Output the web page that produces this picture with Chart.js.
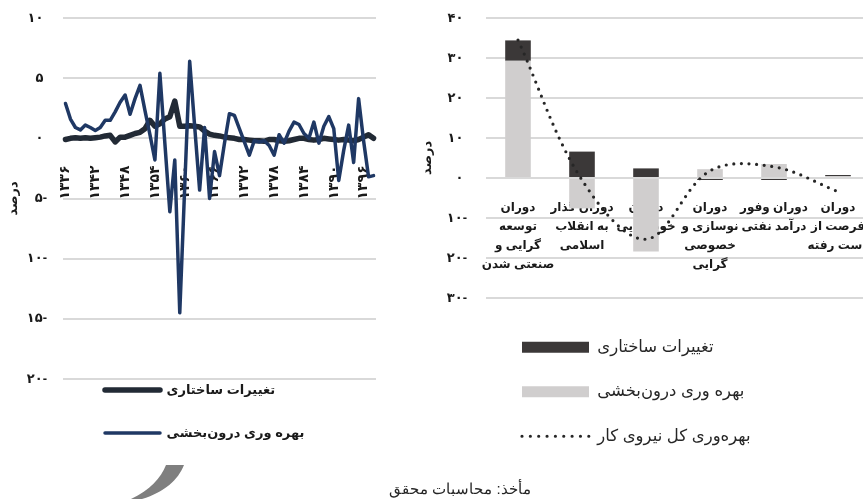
<!DOCTYPE html>
<html><head><meta charset="utf-8">
<script src="https://cdn.jsdelivr.net/npm/chart.js@4.4.1/dist/chart.umd.min.js"></script>
<style>
html,body{margin:0;padding:0;background:#fff;}
body{width:863px;height:499px;overflow:hidden;position:relative;}
#c1{position:absolute;left:0;top:0;}
#c2{position:absolute;left:415px;top:0;}
#deco{position:absolute;left:0;top:0;}
#src{position:absolute;left:360px;top:480px;width:200px;text-align:center;font:15px Arial,"Liberation Sans",sans-serif;color:#262626;direction:rtl;}
</style></head><body>
<canvas id="c1" width="410" height="499"></canvas>
<canvas id="c2" width="470" height="499"></canvas>
<svg id="deco" width="863" height="499"><path d="M166,465 L184,465 C178,480 165,492 142,499 L131,499 C150,490 161,478 166,465 Z" fill="#7f7f7f"/></svg>
<div id="src">مأخذ: محاسبات محقق</div>
<script>
// ---------- Left chart data ----------
const years = [1336,1337,1338,1339,1340,1341,1342,1343,1344,1345,1346,1347,1348,1349,1350,1351,1352,1353,1354,1355,1356,1357,1358,1359,1360,1361,1362,1363,1364,1365,1366,1367,1368,1369,1370,1371,1372,1373,1374,1375,1376,1377,1378,1379,1380,1381,1382,1383,1384,1385,1386,1387,1388,1389,1390,1391,1392,1393,1394,1395,1396,1397,1398];
const yearTickLabels = [1336,1342,1348,1354,1360,1366,1372,1378,1384,1390,1396];
const withinSectorYearly = [2.9,1.6,0.9,0.7,1.1,0.9,0.65,0.9,1.5,1.5, 2.2,3.0,3.6,2.0,3.3,4.4,2.3,0.3,-1.8,5.4, -0.4,-6.1,-1.8,-14.5,-4.0,6.4,1.0,-4.3,0.9,-5.0, -1.1,-3.1,-0.4,2.05,1.9,0.8,-0.3,-1.4,-0.2,-0.3, -0.2,-0.6,-1.4,0.3,-0.4,0.6,1.35,1.15,0.4,0.0, 1.35,-0.4,1.0,1.8,0.8,-3.5,-1.0,1.1,-2.0,3.3, -0.2,-3.2,-3.1];
const structuralYearly = [-0.1,0.0,0.05,0.0,0.05,0.0,0.05,0.1,0.2,0.25, -0.3,0.1,0.1,0.25,0.4,0.5,0.8,1.5,1.0,1.2, 1.6,1.8,3.1,1.0,1.0,1.05,1.0,0.95,0.6,0.35, 0.25,0.2,0.1,0.05,0.0,-0.1,-0.1,-0.15,-0.2,-0.2, -0.25,-0.1,-0.1,-0.2,-0.25,-0.2,-0.1,0.0,0.0,-0.1, -0.15,-0.1,0.0,-0.05,-0.1,-0.15,-0.1,-0.15,-0.2,-0.1, 0.1,0.3,0.0];
const leftSeriesNames = ['بهره وری درون\u200cبخشی', 'تغییرات ساختاری'];

// ---------- Right chart data ----------
const periods = [
  ['دوران','توسعه','گرایی و','صنعتی شدن'],
  ['دوران گذار','به انقلاب','اسلامی'],
  ['دوران','خودکفایی'],
  ['دوران','نوسازی و','خصوصی','گرایی'],
  ['دوران وفور','درآمد نفتی'],
  ['دوران','فرصت از','دست رفته']
];
const periodWithin = [29.3, -7.6, -18.4, 2.2, 3.5, 0.5];
const periodStructural = [5.1, 6.6, 2.4, -0.5, -0.5, 0.25];
const periodTotal = [34.5, -0.5, -15.3, 1.8, 2.8, -3.4];
const rightSeriesNames = ['بهره\u200cوری کل نیروی کار', 'بهره وری درون\u200cبخشی', 'تغییرات ساختاری'];

// ---------- helpers ----------
const FA = '۰۱۲۳۴۵۶۷۸۹';
const fa = n => String(Math.abs(n)).replace(/\d/g, d => FA[d]);
const faTick = v => v < 0 ? fa(v) + '-' : fa(v) + ' ';
const FONT = 'Arial, "Liberation Sans", "DejaVu Sans", sans-serif';
const GRID = '#d9d9d9';
const TXT = '#1a1a1a';

const legendPlace = {
  id: 'legendPlace',
  afterLayout(chart, args, opts) {
    const lg = chart.legend;
    if (!lg || opts.x == null) return;
    const p = lg.options.labels.padding;
    lg.left = opts.x - p; lg.top = opts.y - p;
    lg.width = 440; lg.height = 200;
    lg.right = lg.left + lg.width; lg.bottom = lg.top + lg.height;
  }
};
const fixY = w => s => { s.width = w; s.paddingTop = 0; s.paddingBottom = 0; };
const fixX = s => { s.height = 0; s.paddingLeft = 0; s.paddingRight = 0; };

// ---------- Left chart ----------
new Chart(document.getElementById('c1'), {
  type: 'line',
  data: {
    labels: years,
    datasets: [
      { label: leftSeriesNames[0], data: withinSectorYearly, borderColor: '#1f3864', backgroundColor: '#1f3864',
        borderWidth: 3.5, pointRadius: 0, tension: 0, borderJoinStyle: 'round', borderCapStyle: 'round' },
      { label: leftSeriesNames[1], data: structuralYearly, borderColor: '#222a35', backgroundColor: '#222a35',
        borderWidth: 5.5, pointRadius: 0, tension: 0, borderJoinStyle: 'round', borderCapStyle: 'round' }
    ]
  },
  options: {
    responsive: false, animation: false,
    layout: { padding: { left: 0, top: 18, right: 34, bottom: 120 } },
    scales: {
      x: {
        type: 'category', offset: true, position: { y: 0 },
        grid: { display: false }, border: { display: false },
        afterFit: fixX,
        ticks: {
          autoSkip: false, minRotation: 90, maxRotation: 90, padding: 19, color: TXT,
          font: { family: FONT, size: 14, weight: 'bold' },
          callback: function(v, i) { const y = years[i]; return yearTickLabels.includes(y) ? fa(y) : null; }
        }
      },
      y: {
        min: -20, max: 10,
        afterFit: fixY(63),
        grid: { color: GRID, lineWidth: 2, drawTicks: false }, border: { display: false },
        ticks: { stepSize: 5, padding: 16, color: TXT, font: { family: FONT, size: 13, weight: 'bold' }, callback: v => faTick(v) },
        title: { display: true, text: 'درصد', color: TXT, font: { family: FONT, size: 13, weight: 'bold' }, padding: { top: 6, bottom: 0 } }
      }
    },
    plugins: {
      tooltip: { enabled: false },
      legendPlace: { x: 105, y: 383.5 },
      legend: {
        position: 'chartArea', align: 'start',
        labels: {
          usePointStyle: true, pointStyleWidth: 55, padding: 30, color: TXT,
          font: { family: FONT, size: 13, weight: 'bold' },
          generateLabels: chart => [1, 0].map(i => {
            const ds = chart.data.datasets[i];
            return { text: ds.label, datasetIndex: i, fillStyle: ds.borderColor, strokeStyle: ds.borderColor,
              lineWidth: ds.borderWidth, lineCap: 'round', lineDash: [], pointStyle: 'line', rotation: 0,
              fontColor: TXT, hidden: false };
          })
        }
      }
    }
  },
  plugins: [legendPlace]
});

// ---------- Right chart ----------
new Chart(document.getElementById('c2'), {
  type: 'bar',
  data: {
    labels: periods,
    datasets: [
      { type: 'line', label: rightSeriesNames[0], data: periodTotal, borderColor: '#262626', backgroundColor: '#262626',
        borderWidth: 3.2, borderDash: [0, 7.6], borderCapStyle: 'round', pointRadius: 0, tension: 0.35, fill: false },
      { label: rightSeriesNames[1], data: periodWithin, backgroundColor: '#d0cece', borderWidth: 0 },
      { label: rightSeriesNames[2], data: periodStructural, backgroundColor: '#3b3838', borderWidth: 0 }
    ]
  },
  options: {
    responsive: false, animation: false,
    categoryPercentage: 1, barPercentage: 0.4,
    layout: { padding: { left: 0, top: 18, right: 15, bottom: 201 } },
    scales: {
      x: {
        stacked: true, position: { y: 0 },
        grid: { display: false }, border: { display: false },
        afterFit: fixX,
        ticks: { autoSkip: false, maxRotation: 0, minRotation: 0, padding: 12, color: TXT,
          font: { family: FONT, size: 12, weight: 'bold', lineHeight: 1.58 } }
      },
      y: {
        stacked: true, min: -30, max: 40,
        afterFit: fixY(71),
        grid: { color: GRID, lineWidth: 2, drawTicks: false }, border: { display: false },
        ticks: { stepSize: 10, padding: 19, color: TXT, font: { family: FONT, size: 13, weight: 'bold' }, callback: v => faTick(v) },
        title: { display: true, text: 'درصد', color: TXT, font: { family: FONT, size: 13, weight: 'bold' }, padding: { top: 5, bottom: 0 } }
      }
    },
    plugins: {
      tooltip: { enabled: false },
      legendPlace: { x: 107, y: 339 },
      legend: {
        position: 'chartArea', align: 'start',
        labels: {
          usePointStyle: true, pointStyleWidth: 67, boxHeight: 11, padding: 28, color: '#262626',
          font: { family: FONT, size: 16.5 },
          generateLabels: chart => [2, 1, 0].map(i => {
            const ds = chart.data.datasets[i];
            const isLine = ds.type === 'line';
            return { text: ds.label, datasetIndex: i, fillStyle: isLine ? 'rgba(0,0,0,0)' : ds.backgroundColor,
              strokeStyle: isLine ? ds.borderColor : ds.backgroundColor, lineWidth: isLine ? 3.2 : 0,
              lineCap: 'round', lineDash: isLine ? [0, 8.35] : [], pointStyle: isLine ? 'line' : 'rect',
              rotation: 0, fontColor: '#262626', hidden: false };
          })
        }
      }
    }
  },
  plugins: [legendPlace]
});
</script>
</body></html>
